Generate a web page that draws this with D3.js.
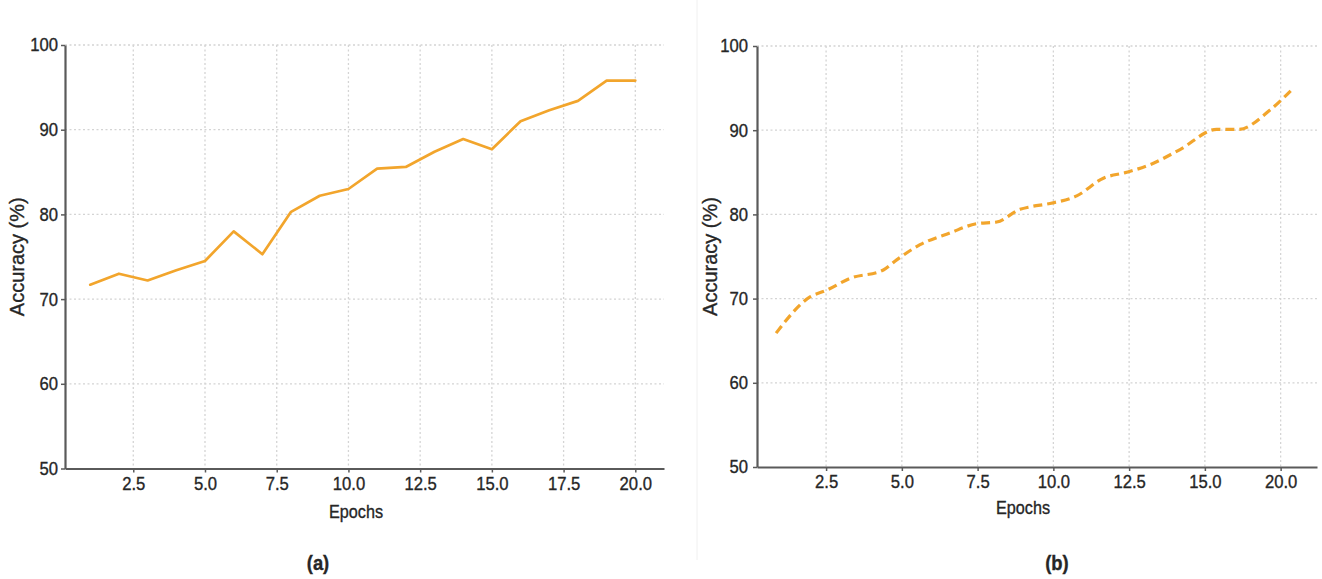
<!DOCTYPE html>
<html>
<head>
<meta charset="utf-8">
<script src="https://cdn.jsdelivr.net/npm/d3@7"></script>
<style>
  html, body { margin: 0; padding: 0; background: #fff; }
  svg { display: block; }
  text { font-family: "Liberation Sans", Arial, Helvetica, sans-serif; fill: #262626; }
</style>
</head>
<body>
<svg id="chart" width="1322" height="579"></svg>
<script>
// Panel (a): accuracy per epoch
const epochsA = [1, 2, 3, 4, 5, 6, 7, 8, 9, 10, 11, 12, 13, 14, 15, 16, 17, 18, 19, 20];
const accuracyA = [71.7, 73.0, 72.2, 73.4, 74.5, 78.0, 75.3, 80.3, 82.2, 83.0, 85.4, 85.6, 87.4, 88.9, 87.7, 91.0, 92.3, 93.4, 95.8, 95.8];

// Panel (b): accuracy curve
const epochsB = [0.85, 1.97, 2.52, 3.29, 4.39, 4.83, 5.60, 6.59, 7.47, 8.13, 8.90, 9.23, 9.89, 10.77, 11.65, 12.42, 13.19, 14.18, 15.39, 16.11, 17.15, 17.92];
const accuracyB = [65.9, 70.2, 71.0, 72.4, 73.4, 74.6, 76.4, 77.8, 78.9, 79.1, 80.6, 80.9, 81.3, 82.2, 84.3, 85.0, 85.9, 87.7, 90.1, 90.1, 92.4, 95.0];

// Tick values and labels
const yTicks = [50, 60, 70, 80, 90, 100];
const xTicksA = [2.5, 5, 7.5, 10, 12.5, 15, 17.5, 20];
const xTickLabelsA = ["2.5", "5.0", "7.5", "10.0", "12.5", "15.0", "17.5", "20.0"];
const xTicksB = [2.5, 5, 7.5, 10, 12.5, 15, 17.5];
const xTickLabelsB = ["2.5", "5.0", "7.5", "10.0", "12.5", "15.0", "20.0"];

const lineColor = "#F2A52C";
const textColor = "#262626";
const svg = d3.select("#chart");

// narrow the glyphs of horizontal text a little and give them some weight
function condense(sel, factor) {
  sel.each(function () {
    const len = this.getComputedTextLength();
    d3.select(this)
      .attr("textLength", len * factor).attr("lengthAdjust", "spacingAndGlyphs")
      .attr("stroke", textColor).attr("stroke-width", 0.35);
  });
}

// faint divider between the two panels
svg.append("line")
  .attr("x1", 697).attr("x2", 697).attr("y1", 0).attr("y2", 560)
  .attr("stroke", "#f0f0f0").attr("stroke-width", 1);

function panel(cfg) {
  const x = d3.scaleLinear().domain(cfg.xDomain).range(cfg.xRange);
  const y = d3.scaleLinear().domain([50, 100]).range(cfg.yRange);
  const g = svg.append("g");

  // grid
  g.append("g").selectAll("line").data(yTicks.filter(v => v > 50)).join("line")
    .attr("x1", cfg.xRange[0]).attr("x2", cfg.xRange[1])
    .attr("y1", d => y(d)).attr("y2", d => y(d))
    .attr("stroke", "#d4d4d4").attr("stroke-width", 1.3).attr("stroke-dasharray", "2,2.5");
  g.append("g").selectAll("line").data(cfg.xTicks).join("line")
    .attr("x1", d => x(d)).attr("x2", d => x(d))
    .attr("y1", cfg.yRange[1]).attr("y2", cfg.yRange[0])
    .attr("stroke", "#d4d4d4").attr("stroke-width", 1.3).attr("stroke-dasharray", "2,2.5");

  // axes
  const xAxis = d3.axisBottom(x).tickValues(cfg.xTicks)
    .tickFormat((d, i) => cfg.xLabels[i]).tickSize(4).tickSizeOuter(0).tickPadding(4);
  const yAxis = d3.axisLeft(y).tickValues(yTicks)
    .tickFormat(d3.format("d")).tickSize(4).tickSizeOuter(0).tickPadding(cfg.yPad);

  const gx = g.append("g").attr("transform", `translate(0,${cfg.yRange[0]})`).call(xAxis);
  const gy = g.append("g").attr("transform", `translate(${cfg.xRange[0]},0)`).call(yAxis);
  [gx, gy].forEach(a => {
    a.select(".domain").attr("stroke", "#5a5a5a").attr("stroke-width", 2.2);
    a.selectAll(".tick line").attr("stroke", "#5a5a5a").attr("stroke-width", 1.5);
    a.selectAll(".tick text").attr("font-size", 18.5).attr("fill", textColor)
      .attr("font-family", "'Liberation Sans', Arial, sans-serif");
    condense(a.selectAll(".tick text"), 0.9);
  });

  // series
  const line = d3.line().x(d => x(d[0])).y(d => y(d[1])).curve(cfg.curve);
  g.append("path")
    .datum(cfg.xs.map((v, i) => [v, cfg.ys[i]]))
    .attr("d", line)
    .attr("fill", "none")
    .attr("stroke", lineColor)
    .attr("stroke-width", cfg.width)
    .attr("stroke-linejoin", "round")
    .attr("stroke-linecap", cfg.dash ? "butt" : "round")
    .attr("stroke-dasharray", cfg.dash || null);

  // titles
  g.append("text")
    .attr("x", cfg.xTitleX).attr("y", cfg.xTitleY)
    .attr("text-anchor", "middle").attr("font-size", 18)
    .text("Epochs")
    .call(s => condense(s, 0.9));
  g.append("text")
    .attr("transform", `translate(${cfg.yTitleX},${(cfg.yRange[0] + cfg.yRange[1]) / 2}) rotate(-90)`)
    .attr("text-anchor", "middle").attr("font-size", 20)
    .attr("stroke", textColor).attr("stroke-width", 0.35)
    .text("Accuracy (%)");
  g.append("text")
    .attr("x", cfg.labelX).attr("y", 570)
    .attr("text-anchor", "middle").attr("font-size", 20).attr("font-weight", "bold")
    .attr("fill", "#222")
    .text(cfg.label)
    .call(s => condense(s, 0.92));
}

panel({
  xDomain: [0.12, 21.0], xRange: [65, 664], yRange: [468.5, 45], yPad: 3,
  xTicks: xTicksA, xLabels: xTickLabelsA,
  xs: epochsA, ys: accuracyA,
  curve: d3.curveLinear, width: 2.7, dash: null,
  xTitleX: 356, xTitleY: 518, yTitleX: 24, labelX: 318, label: "(a)"
});

panel({
  xDomain: [0.22, 18.7], xRange: [757, 1317], yRange: [467, 46], yPad: 5,
  xTicks: xTicksB, xLabels: xTickLabelsB,
  xs: epochsB, ys: accuracyB,
  curve: d3.curveMonotoneX, width: 3.2, dash: "9,5",
  xTitleX: 1023, xTitleY: 514, yTitleX: 717, labelX: 1057, label: "(b)"
});
</script>
</body>
</html>
